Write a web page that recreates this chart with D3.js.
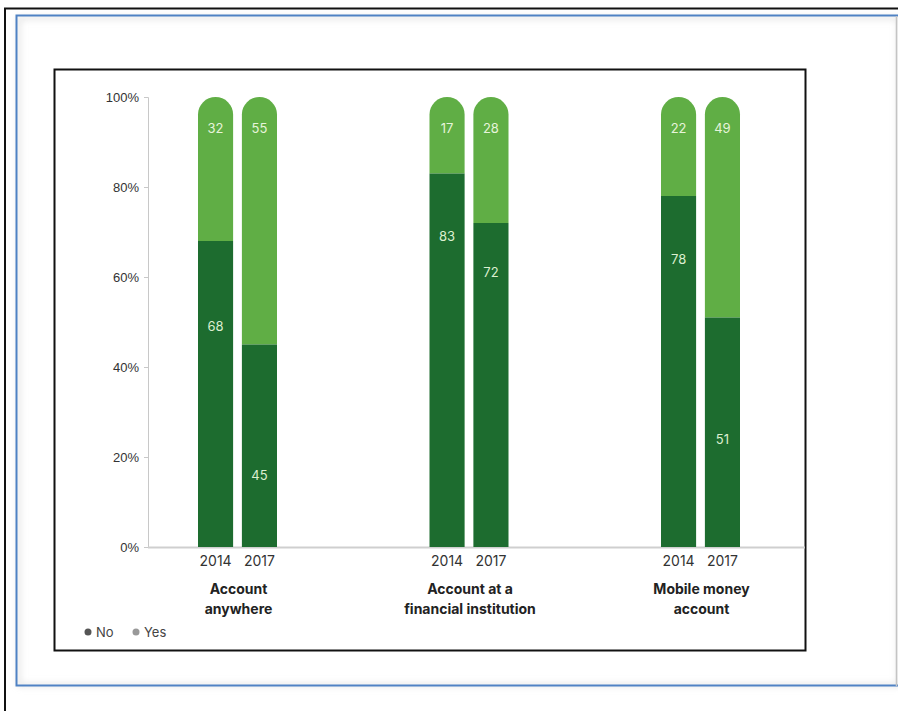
<!DOCTYPE html>
<html>
<head>
<meta charset="utf-8">
<script src="https://cdn.jsdelivr.net/npm/d3@7"></script>
<style>
  body { margin: 0; background: #fff; }
  svg { display: block; font-family: Inter, "Noto Sans", sans-serif; }
</style>
</head>
<body>
<div id="chart"></div>
<script>
const groups = ['Account anywhere', 'Account at a financial institution', 'Mobile money account'];
const groupLines = [['Account', 'anywhere'], ['Account at a', 'financial institution'], ['Mobile money', 'account']];
const years = ['2014', '2017'];
const noValues = [[68, 45], [83, 72], [78, 51]];
const yesValues = [[32, 55], [17, 28], [22, 49]];
// where the "No" numbers sit on the bar, in percent units
const noLabelAt = [[49, 16], [69, 61], [64, 24]];
const yTicks = [0, 20, 40, 60, 80, 100];
const legendItems = ['No', 'Yes'];

const W = 898, H = 711;
const darkGreen = '#1d6c2f', lightGreen = '#60ae45';

const svg = d3.select('#chart').append('svg')
    .attr('width', W)
    .attr('height', H);

// frames around the picture
svg.append('rect')
    .attr('x', 5).attr('y', 8.5)
    .attr('width', 920).attr('height', 720)
    .attr('fill', 'none').attr('stroke', '#111').attr('stroke-width', 2);

const defs = svg.append('defs');
const shadow = defs.append('filter').attr('id', 'inset').attr('x', -0.1).attr('y', -0.1).attr('width', 1.2).attr('height', 1.2);
shadow.append('feGaussianBlur').attr('stdDeviation', 3);

svg.append('rect')
    .attr('x', 19).attr('y', 18)
    .attr('width', 880).attr('height', 667)
    .attr('fill', 'none').attr('stroke', '#ddd').attr('stroke-width', 3)
    .attr('filter', 'url(#inset)');

svg.append('rect')
    .attr('x', 16.5).attr('y', 15.5)
    .attr('width', 900).attr('height', 670)
    .attr('fill', 'none').attr('stroke', '#4f82c4').attr('stroke-width', 2);

svg.append('line')
    .attr('x1', 896.5).attr('x2', 896.5).attr('y1', 16).attr('y2', 686)
    .attr('stroke', '#c4c4c4').attr('stroke-width', 1.5);

svg.append('rect')
    .attr('x', 54.5).attr('y', 69.5)
    .attr('width', 751).attr('height', 581)
    .attr('fill', '#fff').attr('stroke', '#111').attr('stroke-width', 2);

// scales
const y = d3.scaleLinear().domain([0, 100]).range([547, 97]);
const x0 = d3.scalePoint().domain(groups).range([237.5, 700.5]);
const x1 = d3.scaleBand().domain(years).range([-39.5, 39.5]).paddingInner(0.2);

// axes
const yAxis = svg.append('g')
    .attr('transform', 'translate(148,0)')
    .call(d3.axisLeft(y).tickValues(yTicks).tickFormat(d => d + '%').tickSize(4).tickPadding(5));
yAxis.select('.domain').attr('stroke', '#c8c8c8');
yAxis.selectAll('.tick line').attr('stroke', '#c8c8c8');
yAxis.selectAll('.tick text')
    .attr('fill', '#333')
    .style('font-size', '13px');

svg.append('line')
    .attr('x1', 148).attr('x2', 805)
    .attr('y1', y(0) + 0.5).attr('y2', y(0) + 0.5)
    .attr('stroke', '#cfcfcf').attr('stroke-width', 2);

// bars
const r = x1.bandwidth() / 2;
function roundTop(x, top, bottom, w) {
    const rr = w / 2;
    return `M${x},${bottom} L${x},${top + rr} A${rr},${rr} 0 0 1 ${x + w},${top + rr} L${x + w},${bottom} Z`;
}

groups.forEach((g, gi) => {
    const gx = svg.append('g').attr('transform', `translate(${x0(g)},0)`);
    years.forEach((yr, yi) => {
        const bx = x1(yr);
        const no = noValues[gi][yi];
        const yes = yesValues[gi][yi];
        gx.append('path')
            .attr('d', roundTop(bx, y(no + yes), y(no), x1.bandwidth()))
            .attr('fill', lightGreen);
        gx.append('rect')
            .attr('x', bx).attr('y', y(no))
            .attr('width', x1.bandwidth()).attr('height', y(0) - y(no))
            .attr('fill', darkGreen);
        gx.append('text')
            .attr('x', bx + r).attr('y', y(93))
            .attr('dy', '0.35em')
            .attr('text-anchor', 'middle')
            .attr('fill', '#e6f4da')
            .style('font-size', '13px')
            .text(yes);
        gx.append('text')
            .attr('x', bx + r).attr('y', y(noLabelAt[gi][yi]))
            .attr('dy', '0.35em')
            .attr('text-anchor', 'middle')
            .attr('fill', '#dcefd0')
            .style('font-size', '13px')
            .text(no);
        gx.append('text')
            .attr('x', bx + r).attr('y', 561)
            .attr('dy', '0.35em')
            .attr('text-anchor', 'middle')
            .attr('fill', '#333')
            .style('font-size', '14px')
            .text(yr);
    });
    const lbl = gx.append('text')
        .attr('text-anchor', 'middle')
        .attr('fill', '#222')
        .style('font-size', '14px')
        .style('font-weight', 'bold');
    groupLines[gi].forEach((line, li) => {
        lbl.append('tspan')
            .attr('x', 1)
            .attr('y', 594 + li * 20)
            .text(line);
    });
});

// legend
const legendColors = ['#555', '#999'];
const legend = svg.append('g').attr('transform', 'translate(88,632)');
legendItems.forEach((item, i) => {
    const lg = legend.append('g').attr('transform', `translate(${i * 48},0)`);
    lg.append('circle').attr('r', 3.5).attr('fill', legendColors[i]);
    lg.append('text')
        .attr('x', 8).attr('dy', '0.35em')
        .attr('fill', '#444')
        .style('font-size', '13px')
        .text(item);
});
</script>
</body>
</html>
